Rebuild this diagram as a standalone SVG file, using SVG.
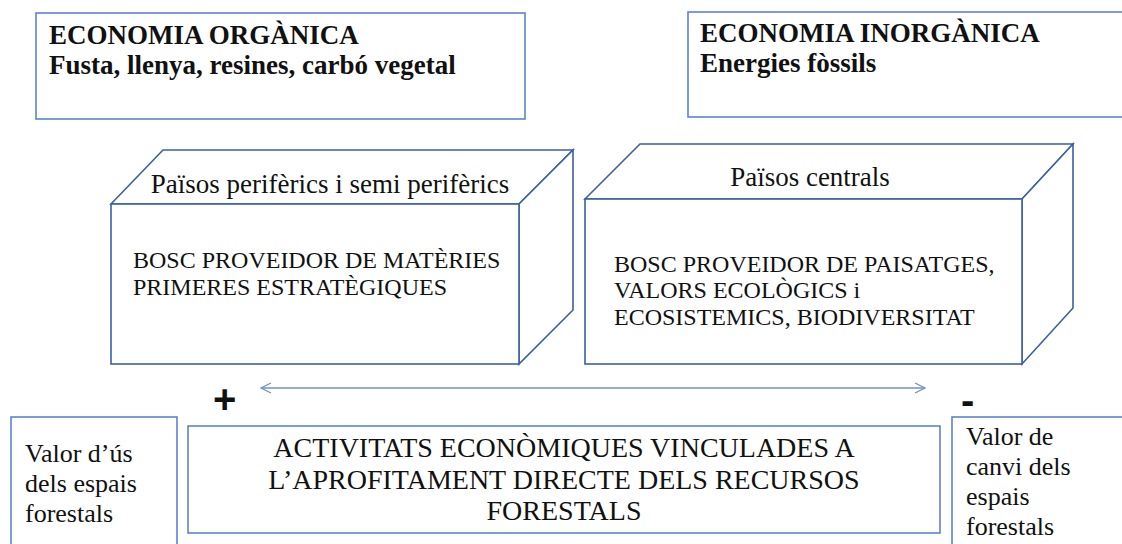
<svg xmlns="http://www.w3.org/2000/svg" width="1122" height="544" viewBox="0 0 1122 544">
  <style>
    .box { fill: #ffffff; stroke: #5b84d4; stroke-width: 1.6; }
    .cube { fill: #ffffff; stroke: #3a5fa8; stroke-width: 1.6; stroke-linejoin: miter; }
    .t { font-family: "Liberation Serif", "Times New Roman", serif; fill: #111111; }
    .bold { font-weight: bold; font-size: 27px; }
    .top { font-size: 27px; text-anchor: middle; }
    .body { font-size: 24px; }
    .side { font-size: 26px; }
    .main { font-size: 28px; text-anchor: middle; }
    .sign { font-family: "Liberation Sans", Arial, sans-serif; font-weight: bold; fill: #111111; }
    .conn { fill: none; stroke: #6f8fd2; stroke-width: 1.3; }
  </style>
  <defs>
    <marker id="chev" viewBox="0 0 12 12" refX="11" refY="6" markerWidth="12" markerHeight="12" markerUnits="userSpaceOnUse" orient="auto-start-reverse">
      <path d="M1,1 L11,6 L1,11" fill="none" stroke="#6f8fd2" stroke-width="1.3"/>
    </marker>
  </defs>
  <rect width="1122" height="544" fill="#ffffff"/>

  <g id="economia-organica">
    <rect class="box" x="36" y="13" width="489" height="106"/>
    <text class="t bold" x="49" y="44">ECONOMIA ORGÀNICA</text>
    <text class="t bold" x="49" y="74">Fusta, llenya, resines, carbó vegetal</text>
  </g>

  <g id="economia-inorganica">
    <rect class="box" x="688" y="12" width="450" height="105"/>
    <text class="t bold" x="700" y="42">ECONOMIA INORGÀNICA</text>
    <text class="t bold" x="700" y="72">Energies fòssils</text>
  </g>

  <g id="paisos-periferics">
    <polygon class="cube" points="111,204 163,150 573,150 519,204"/>
    <polygon class="cube" points="519,204 573,150 573,310 519,364"/>
    <rect class="cube" x="111" y="204" width="408" height="160"/>
    <text class="t top" x="330" y="193">Països perifèrics i semi perifèrics</text>
    <text class="t body" x="133" y="268">BOSC PROVEIDOR DE MATÈRIES</text>
    <text class="t body" x="133" y="295">PRIMERES ESTRATÈGIQUES</text>
  </g>

  <g id="paisos-centrals">
    <polygon class="cube" points="585,199 640,144 1073,144 1022,199"/>
    <polygon class="cube" points="1022,199 1073,144 1073,308 1022,364"/>
    <rect class="cube" x="585" y="199" width="437" height="165"/>
    <text class="t top" x="810" y="186">Països centrals</text>
    <text class="t body" x="614" y="272">BOSC PROVEIDOR DE PAISATGES,</text>
    <text class="t body" x="614" y="298">VALORS ECOLÒGICS i</text>
    <text class="t body" x="614" y="325">ECOSISTEMICS, BIODIVERSITAT</text>
  </g>

  <g id="connectors">
    <line class="conn" x1="261" y1="388" x2="925" y2="388" marker-start="url(#chev)" marker-end="url(#chev)"/>
  </g>

  <g id="signe-mes">
    <text class="sign" x="213" y="413" font-size="40">+</text>
  </g>
  <g id="signe-menys">
    <text class="sign" x="961" y="414" font-size="40">-</text>
  </g>

  <g id="valor-us">
    <rect class="box" x="11" y="417" width="166" height="140"/>
    <text class="t side" x="25" y="462">Valor d’ús</text>
    <text class="t side" x="25" y="492">dels espais</text>
    <text class="t side" x="25" y="522">forestals</text>
  </g>

  <g id="activitats">
    <rect class="box" x="188" y="426" width="752" height="107"/>
    <text class="t main" x="564" y="457">ACTIVITATS ECONÒMIQUES VINCULADES A</text>
    <text class="t main" x="564" y="489">L’APROFITAMENT DIRECTE DELS RECURSOS</text>
    <text class="t main" x="564" y="520">FORESTALS</text>
  </g>

  <g id="valor-canvi">
    <rect class="box" x="952" y="417" width="200" height="140"/>
    <text class="t side" x="966" y="445">Valor de</text>
    <text class="t side" x="966" y="475">canvi dels</text>
    <text class="t side" x="966" y="505">espais</text>
    <text class="t side" x="966" y="535">forestals</text>
  </g>
</svg>
